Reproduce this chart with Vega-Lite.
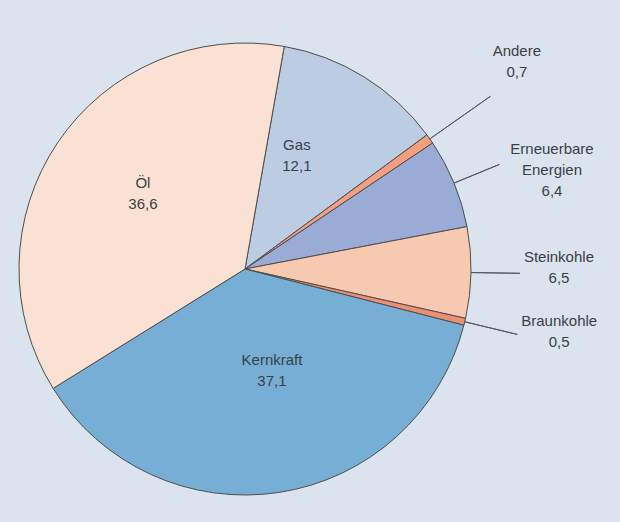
{
  "$schema": "https://vega.github.io/schema/vega-lite/v6.json",
  "width": 490,
  "height": 538,
  "autosize": "none",
  "padding": {"left": 0, "top": 0, "right": 130, "bottom": -16},
  "background": "#dae3ee",
  "config": {
    "view": {"stroke": null},
    "text": {"font": "Liberation Sans", "fontSize": 15, "lineBreak": " ", "lineHeight": 21, "color": "#3a3f45", "align": "center", "baseline": "middle"}
  },
  "data": {
    "values": [
      {"Quelle": "Gas", "Anteil": 12.1},
      {"Quelle": "Andere", "Anteil": 0.7},
      {"Quelle": "Erneuerbare Energien", "Anteil": 6.4},
      {"Quelle": "Steinkohle", "Anteil": 6.5},
      {"Quelle": "Braunkohle", "Anteil": 0.5},
      {"Quelle": "Kernkraft", "Anteil": 37.1},
      {"Quelle": "Öl", "Anteil": 36.6}
    ]
  },
  "transform": [
    {"window": [{"op": "row_number", "as": "Reihenfolge"}]},
    {"calculate": "datum.Quelle + ' ' + replace(format(datum.Anteil, '.1f'), '.', ',')", "as": "Beschriftung"}
  ],
  "layer": [
    {
      "mark": {"type": "arc", "radius": 226, "stroke": "#4d4d4d", "strokeWidth": 1},
      "encoding": {
        "theta": {"field": "Anteil", "type": "quantitative", "scale": {"domain": [0, 99.9], "range": [0.1745, 6.4577]}},
        "color": {
          "field": "Quelle", "type": "nominal", "legend": null,
          "scale": {
            "domain": ["Gas", "Andere", "Erneuerbare Energien", "Steinkohle", "Braunkohle", "Kernkraft", "Öl"],
            "range": ["#bccce3", "#f4a080", "#9aacd6", "#f8c9b1", "#ec8f72", "#76aed5", "#fbe1d3"]
          }
        },
        "order": {"field": "Reihenfolge", "type": "quantitative"}
      }
    },
    {
      "mark": {"type": "arc", "radius": 300, "radius2": 226, "padAngle": 1, "filled": false, "stroke": "#555a60", "strokeWidth": 1},
      "encoding": {
        "theta": {"field": "Anteil", "type": "quantitative"},
        "order": {"field": "Reihenfolge", "type": "quantitative"},
        "strokeOpacity": {"condition": {"test": "datum.Quelle === 'Andere'", "value": 1}, "value": 0}
      }
    },
    {
      "mark": {"type": "arc", "radius": 275, "radius2": 226, "padAngle": 1, "filled": false, "stroke": "#555a60", "strokeWidth": 1},
      "encoding": {
        "theta": {"field": "Anteil", "type": "quantitative"},
        "order": {"field": "Reihenfolge", "type": "quantitative"},
        "strokeOpacity": {"condition": {"test": "datum.Quelle === 'Erneuerbare Energien' || datum.Quelle === 'Steinkohle'", "value": 1}, "value": 0}
      }
    },
    {
      "mark": {"type": "arc", "radius": 280, "radius2": 226, "padAngle": 1, "filled": false, "stroke": "#555a60", "strokeWidth": 1},
      "encoding": {
        "theta": {"field": "Anteil", "type": "quantitative"},
        "order": {"field": "Reihenfolge", "type": "quantitative"},
        "strokeOpacity": {"condition": {"test": "datum.Quelle === 'Braunkohle'", "value": 1}, "value": 0}
      }
    },
    {
      "mark": {"type": "text", "radius": 125, "dx": -14, "dy": -18},
      "encoding": {
        "theta": {"field": "Anteil", "type": "quantitative", "stack": true},
        "order": {"field": "Reihenfolge", "type": "quantitative"},
        "text": {"field": "Beschriftung", "type": "nominal"},
        "opacity": {"condition": {"test": "datum.Quelle === 'Gas'", "value": 1}, "value": 0}
      }
    },
    {
      "mark": {"type": "text", "radius": 330, "dx": 2, "dy": -28},
      "encoding": {
        "theta": {"field": "Anteil", "type": "quantitative", "stack": true},
        "order": {"field": "Reihenfolge", "type": "quantitative"},
        "text": {"field": "Beschriftung", "type": "nominal"},
        "opacity": {"condition": {"test": "datum.Quelle === 'Andere'", "value": 1}, "value": 0}
      }
    },
    {
      "mark": {"type": "text", "radius": 320, "dx": 11, "dy": 2},
      "encoding": {
        "theta": {"field": "Anteil", "type": "quantitative", "stack": true},
        "order": {"field": "Reihenfolge", "type": "quantitative"},
        "text": {"field": "Beschriftung", "type": "nominal"},
        "opacity": {"condition": {"test": "datum.Quelle === 'Erneuerbare Energien'", "value": 1}, "value": 0}
      }
    },
    {
      "mark": {"type": "text", "radius": 313, "dx": 1, "dy": -17},
      "encoding": {
        "theta": {"field": "Anteil", "type": "quantitative", "stack": true},
        "order": {"field": "Reihenfolge", "type": "quantitative"},
        "text": {"field": "Beschriftung", "type": "nominal"},
        "opacity": {"condition": {"test": "datum.Quelle === 'Steinkohle'", "value": 1}, "value": 0}
      }
    },
    {
      "mark": {"type": "text", "radius": 318, "dx": 5, "dy": -22},
      "encoding": {
        "theta": {"field": "Anteil", "type": "quantitative", "stack": true},
        "order": {"field": "Reihenfolge", "type": "quantitative"},
        "text": {"field": "Beschriftung", "type": "nominal"},
        "opacity": {"condition": {"test": "datum.Quelle === 'Braunkohle'", "value": 1}, "value": 0}
      }
    },
    {
      "mark": {"type": "text", "radius": 105, "dx": 11, "dy": -13},
      "encoding": {
        "theta": {"field": "Anteil", "type": "quantitative", "stack": true},
        "order": {"field": "Reihenfolge", "type": "quantitative"},
        "text": {"field": "Beschriftung", "type": "nominal"},
        "opacity": {"condition": {"test": "datum.Quelle === 'Kernkraft'", "value": 1}, "value": 0}
      }
    },
    {
      "mark": {"type": "text", "radius": 128, "dx": 4, "dy": -14},
      "encoding": {
        "theta": {"field": "Anteil", "type": "quantitative", "stack": true},
        "order": {"field": "Reihenfolge", "type": "quantitative"},
        "text": {"field": "Beschriftung", "type": "nominal"},
        "opacity": {"condition": {"test": "datum.Quelle === 'Öl'", "value": 1}, "value": 0}
      }
    }
  ]
}
